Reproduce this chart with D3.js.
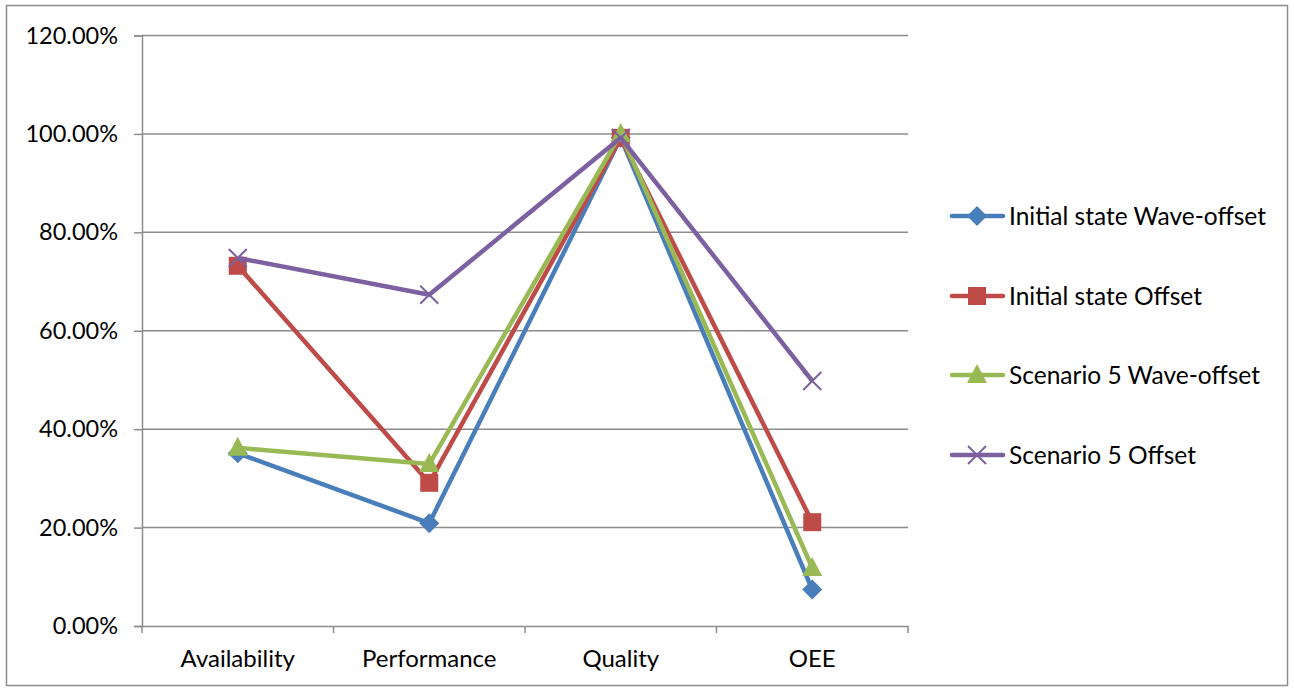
<!DOCTYPE html>
<html><head><meta charset="utf-8">
<script src="https://cdn.jsdelivr.net/npm/d3@7"></script>
<style>body{margin:0;background:#fff}svg{display:block}text{font-family:Lato,"Open Sans",sans-serif;fill:#000}</style>
</head><body>
<svg id="c" width="1294" height="688"></svg>
<script>
const categories = ["Availability","Performance","Quality","OEE"];
const seriesNames = ["Initial state Wave-offset","Initial state Offset","Scenario 5 Wave-offset","Scenario 5 Offset"];
const initialWaveOffset = [0.351, 0.209, 0.992, 0.074];
const initialOffset = [0.732, 0.291, 0.992, 0.211];
const scenario5WaveOffset = [0.362, 0.329, 1.0, 0.118];
const scenario5Offset = [0.748, 0.673, 0.992, 0.498];
const yTicks = [0,0.2,0.4,0.6,0.8,1.0,1.2];
const colors = ["#4a7ebb","#be4b48","#98b954","#7d60a0"];
const markers = ["diamond","square","triangle","x"];
const seriesValues = [initialWaveOffset, initialOffset, scenario5WaveOffset, scenario5Offset];

const svg = d3.select("#c");
svg.append("rect").attr("x",6.5).attr("y",5.5).attr("width",1281).attr("height",680).attr("fill","#fff").attr("stroke","#8c8c8c").attr("stroke-width",1.5);

const L=142, R=908, T=35.5, B=626;
const x = d3.scaleBand().domain(categories).range([L,R]).paddingInner(0).paddingOuter(0);
const y = d3.scaleLinear().domain([0,1.2]).range([B,T]);

svg.append("g").selectAll("line").data(yTicks.filter(d=>d>0)).join("line")
  .attr("x1",L).attr("x2",R).attr("y1",d=>y(d)).attr("y2",d=>y(d))
  .attr("stroke","#8c8c8c").attr("stroke-width",1.5);

const yAxis = svg.append("g").attr("transform",`translate(${L},0)`)
  .call(d3.axisLeft(y).tickValues(yTicks).tickFormat(d3.format(".2%")).tickSize(8).tickPadding(16));
yAxis.select(".domain").attr("stroke","#8c8c8c").attr("stroke-width",1.5);
yAxis.selectAll(".tick line").attr("stroke","#8c8c8c").attr("stroke-width",1.5);
yAxis.selectAll("text").style("font-size","23.5px").attr("font-family",null).attr("fill","#000");

const xAxis = svg.append("g").attr("transform",`translate(0,${B})`)
  .call(d3.axisBottom(x).tickSize(0).tickPadding(24));
xAxis.select(".domain").attr("stroke","#8c8c8c").attr("stroke-width",1.5);
xAxis.selectAll("text").style("font-size","24px").attr("font-family",null).attr("fill","#000");
const bounds = categories.map(c=>x(c)).concat([R]);
svg.append("g").selectAll("line").data(bounds).join("line")
  .attr("x1",d=>d).attr("x2",d=>d).attr("y1",B).attr("y2",B+7)
  .attr("stroke","#8c8c8c").attr("stroke-width",1.5);

const cx = c => x(c)+x.bandwidth()/2;

function drawMarker(g, type, color, px, py){
  if(type==="diamond"){
    g.append("path").attr("d",`M${px},${py-10}L${px+10},${py}L${px},${py+10}L${px-10},${py}Z`).attr("fill",color);
  } else if(type==="square"){
    g.append("rect").attr("x",px-9).attr("y",py-9).attr("width",18).attr("height",18).attr("fill",color);
  } else if(type==="triangle"){
    g.append("path").attr("d",`M${px},${py-11}L${px+10},${py+8}L${px-10},${py+8}Z`).attr("fill",color);
  } else {
    g.append("path").attr("d",`M${px-9},${py-9}L${px+9},${py+9}M${px-9},${py+9}L${px+9},${py-9}`).attr("stroke",color).attr("stroke-width",2);
  }
}

const line = d3.line().x((d,i)=>cx(categories[i])).y(d=>y(d));
seriesValues.forEach((vals,s)=>{
  const g = svg.append("g");
  g.append("path").datum(vals).attr("d",line).attr("fill","none").attr("stroke",colors[s]).attr("stroke-width",4.5).attr("stroke-linejoin","round");
  vals.forEach((v,i)=>drawMarker(g, markers[s], colors[s], cx(categories[i]), y(v)));
});

const legY = [216,296,375,455];
seriesNames.forEach((name,s)=>{
  const g = svg.append("g");
  g.append("line").attr("x1",952).attr("x2",1003).attr("y1",legY[s]).attr("y2",legY[s]).attr("stroke",colors[s]).attr("stroke-width",4.5).attr("stroke-linecap","round");
  drawMarker(g, markers[s], colors[s], 977, legY[s]);
  g.append("text").attr("x",1009).attr("y",legY[s]).attr("dy","0.35em").style("font-size","24.5px").text(name);
});
</script>
</body></html>
